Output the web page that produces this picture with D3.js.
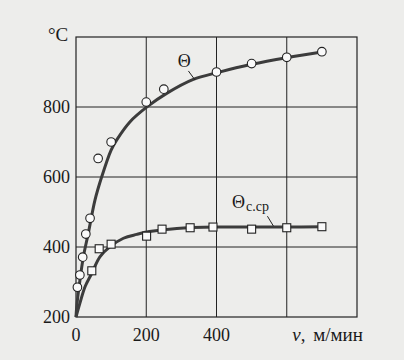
<!DOCTYPE html>
<html>
<head>
<meta charset="utf-8">
<script src="https://cdn.jsdelivr.net/npm/d3@7"></script>
<style>
  body { margin: 0; background: #ededeb; }
  svg { display: block; }
  text { font-family: "Liberation Serif", "DejaVu Serif", serif; fill: #1a1a1a; }
</style>
</head>
<body>
<div id="chart"></div>
<script>
// measured points, Θ (circles)
const thetaV = [4, 11, 19, 28, 40, 63, 100, 200, 250, 400, 500, 600, 700];
const thetaT = [285, 320, 371, 437, 482, 653, 700, 814, 851, 900, 924, 942, 958];

// measured points, Θс.ср (squares)
const thetaCpV = [45, 66, 100, 201, 245, 325, 390, 500, 600, 700];
const thetaCpT = [332, 395, 408, 431, 451, 455, 457, 451, 455, 458];

// fitted curves
const curveThetaV = [0, 2, 10, 21, 35, 54, 73, 100, 116, 154, 203, 258, 334, 405, 500, 600, 700];
const curveThetaT = [200, 229, 296, 372, 439, 534, 600, 677, 706, 758, 801, 839, 879, 899, 922, 941, 957];
const curveCpV = [0, 11, 26, 45, 68, 97, 135, 173, 209, 287, 400, 500, 600, 700];
const curveCpT = [200, 239, 287, 325, 372, 401, 425, 436, 444, 453, 457, 457, 457, 458];

const xTicks = [0, 200, 400];
const yTicks = [200, 400, 600, 800];
const xGrid = [200, 400, 600];
const yGrid = [400, 600, 800];

const width = 404, height = 360;
const margin = { top: 37, right: 47, bottom: 43, left: 76 };
const w = width - margin.left - margin.right,
  h = height - margin.top - margin.bottom;

const svg = d3.select("#chart").append("svg")
  .attr("width", width)
  .attr("height", height);

const g = svg.append("g")
  .attr("transform", "translate(" + margin.left + "," + margin.top + ")");

const x = d3.scaleLinear().domain([0, 800]).range([0, w]);
const y = d3.scaleLinear().domain([200, 1000]).range([h, 0]);

// grid
g.selectAll(".vgrid").data(xGrid).enter().append("line")
  .attr("x1", d => x(d)).attr("x2", d => x(d))
  .attr("y1", 0).attr("y2", h)
  .attr("stroke", "#222").attr("stroke-width", 1);
g.selectAll(".hgrid").data(yGrid).enter().append("line")
  .attr("x1", 0).attr("x2", w)
  .attr("y1", d => y(d)).attr("y2", d => y(d))
  .attr("stroke", "#222").attr("stroke-width", 1);

g.append("rect")
  .attr("width", w).attr("height", h)
  .attr("fill", "none").attr("stroke", "#222").attr("stroke-width", 1.2);

// tick labels
g.selectAll(".ylab").data(yTicks).enter().append("text")
  .attr("x", -6).attr("y", d => y(d))
  .attr("dy", "0.35em")
  .attr("text-anchor", "end")
  .style("font-size", "18px")
  .text(d => d);
g.selectAll(".xlab").data(xTicks).enter().append("text")
  .attr("x", d => x(d)).attr("y", h + 24)
  .attr("text-anchor", "middle")
  .style("font-size", "18px")
  .text(d => d);

// axis titles
g.append("text")
  .attr("x", x(616)).attr("y", h + 24)
  .style("font-size", "19px")
  .style("word-spacing", "3px")
  .html('<tspan font-style="italic">v</tspan>, м/мин');
g.append("text")
  .attr("x", -28).attr("y", 4)
  .style("font-size", "19px")
  .text("°C");

// curves
const line = d3.line()
  .x(d => x(d[0])).y(d => y(d[1]))
  .curve(d3.curveCatmullRom.alpha(0.5));

g.append("path")
  .datum(d3.zip(curveThetaV, curveThetaT))
  .attr("d", line)
  .attr("fill", "none").attr("stroke", "#3c3c3c").attr("stroke-width", 3);
g.append("path")
  .datum(d3.zip(curveCpV, curveCpT))
  .attr("d", line)
  .attr("fill", "none").attr("stroke", "#3c3c3c").attr("stroke-width", 3);

// markers
g.selectAll(".circ").data(d3.zip(thetaV, thetaT)).enter().append("circle")
  .attr("cx", d => x(d[0])).attr("cy", d => y(d[1]))
  .attr("r", 4.3)
  .attr("fill", "#fafafa").attr("stroke", "#222").attr("stroke-width", 1.1);
g.selectAll(".sq").data(d3.zip(thetaCpV, thetaCpT)).enter().append("rect")
  .attr("x", d => x(d[0]) - 4).attr("y", d => y(d[1]) - 4)
  .attr("width", 8).attr("height", 8)
  .attr("fill", "#fafafa").attr("stroke", "#222").attr("stroke-width", 1.1);

// curve labels
g.append("text")
  .attr("x", x(308)).attr("y", y(915))
  .attr("text-anchor", "middle")
  .style("font-size", "18px")
  .text("Θ");
g.append("line")
  .attr("x1", x(320)).attr("y1", y(903))
  .attr("x2", x(339)).attr("y2", y(877))
  .attr("stroke", "#222").attr("stroke-width", 1);

g.append("text")
  .attr("x", x(444)).attr("y", y(511))
  .style("font-size", "18px")
  .html('Θ<tspan dx="1" dy="3" font-size="14px">с.ср</tspan>');
g.append("line")
  .attr("x1", x(545)).attr("y1", y(488))
  .attr("x2", x(562)).attr("y2", y(460))
  .attr("stroke", "#222").attr("stroke-width", 1);
</script>
</body>
</html>
